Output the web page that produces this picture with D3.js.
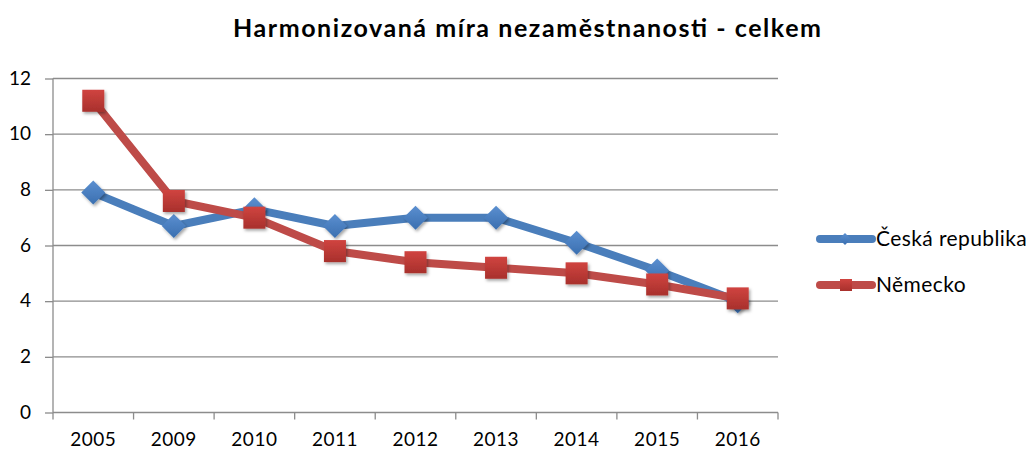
<!DOCTYPE html>
<html><head><meta charset="utf-8">
<script src="https://cdn.jsdelivr.net/npm/d3@7"></script>
<style>body{margin:0;background:#fff}svg{display:block}</style>
</head><body>
<svg id="c" width="1035" height="453"></svg>
<script>
const categories = ["2005","2009","2010","2011","2012","2013","2014","2015","2016"];
const czValues = [7.9, 6.7, 7.3, 6.7, 7.0, 7.0, 6.1, 5.1, 4.0];
const deValues = [11.2, 7.6, 7.0, 5.8, 5.4, 5.2, 5.0, 4.6, 4.1];
const yTicks = [0, 2, 4, 6, 8, 10, 12];
const seriesNames = ["Česká republika", "Německo"];
const title = "Harmonizovaná míra nezaměstnanosti - celkem";

(function(){
const svg = d3.select("#c");
const font = "Lato, 'DejaVu Sans', sans-serif";
const pLeft = 53, pRight = 778, pTop = 78.5, pBottom = 412.5;
const x = d3.scaleBand().domain(categories).range([pLeft, pRight]);
const y = d3.scaleLinear().domain([0, 12]).range([pBottom, pTop]);

const defs = svg.append("defs");
const f = defs.append("filter").attr("id","sh").attr("x","-50%").attr("y","-50%").attr("width","200%").attr("height","200%");
f.append("feDropShadow").attr("dx",1.5).attr("dy",2).attr("stdDeviation",1.5).attr("flood-color","#000").attr("flood-opacity",0.35);
const gb = defs.append("linearGradient").attr("id","gb").attr("x1",0).attr("y1",0).attr("x2",0).attr("y2",1);
gb.append("stop").attr("offset","0").attr("stop-color","#5b8fd0");
gb.append("stop").attr("offset","1").attr("stop-color","#3a6fb0");
const gr = defs.append("linearGradient").attr("id","gr").attr("x1",0).attr("y1",0).attr("x2",0).attr("y2",1);
gr.append("stop").attr("offset","0").attr("stop-color","#d04440");
gr.append("stop").attr("offset","1").attr("stop-color","#a8302c");

svg.append("text").attr("x", 527).attr("y", 37).attr("text-anchor","middle")
  .attr("font-family", font).attr("font-weight","bold").attr("font-size", 25).attr("fill","#000")
  .attr("textLength", 588).attr("lengthAdjust","spacing")
  .text(title);

svg.append("g").selectAll("line").data(yTicks.filter(d=>d>0)).join("line")
  .attr("x1", pLeft).attr("x2", pRight).attr("y1", d=>y(d)).attr("y2", d=>y(d))
  .attr("stroke","#8c8c8c").attr("stroke-width",1.3);

const ya = svg.append("g").attr("transform",`translate(${pLeft},0)`)
  .call(d3.axisLeft(y).tickValues(yTicks).tickSize(8).tickPadding(14).tickFormat(d3.format("d")));
ya.select(".domain").attr("stroke","#8c8c8c").attr("stroke-width",1.3).attr("d",`M0,${pTop}V${pBottom}`);
ya.selectAll(".tick line").attr("stroke","#8c8c8c").attr("stroke-width",1.3);
ya.selectAll("text").attr("font-family",font).attr("font-size",19).attr("fill","#000").attr("dy","0.3em");

const xa = svg.append("g").attr("transform",`translate(0,${pBottom})`)
  .call(d3.axisBottom(x).tickSize(0).tickPadding(20));
xa.select(".domain").attr("stroke","#8c8c8c").attr("stroke-width",1.3).attr("d",`M${pLeft},0H${pRight}`);
xa.selectAll("text").attr("font-family",font).attr("font-size",19).attr("fill","#000").attr("letter-spacing","0.5px");
const bounds = categories.map(c=>x(c)).concat([pRight]);
xa.selectAll(".bt").data(bounds).join("line").attr("class","bt")
  .attr("x1",d=>d).attr("x2",d=>d).attr("y1",0).attr("y2",7)
  .attr("stroke","#8c8c8c").attr("stroke-width",1.3);

const cx = c => x(c) + x.bandwidth()/2;
const line = d3.line().x(d=>cx(d[0])).y(d=>y(d[1]));

const series = [
  {name: seriesNames[0], values: czValues, color:"#4a7ebb", grad:"url(#gb)", marker:"diamond"},
  {name: seriesNames[1], values: deValues, color:"#be4b48", grad:"url(#gr)", marker:"square"}
];

series.forEach(s=>{
  const pts = categories.map((c,i)=>[c, s.values[i]]);
  svg.append("path").datum(pts).attr("d", line).attr("fill","none")
    .attr("stroke", s.color).attr("stroke-width", 8).attr("stroke-linejoin","round").attr("stroke-linecap","round");
});
series.forEach(s=>{
  const pts = categories.map((c,i)=>[c, s.values[i]]);
  const g = svg.append("g").attr("filter","url(#sh)");
  if (s.marker === "diamond") {
    g.selectAll("path").data(pts).join("path")
      .attr("d", d=>{const X=cx(d[0]),Y=y(d[1]),r=12;return `M${X},${Y-r}L${X+r},${Y}L${X},${Y+r}L${X-r},${Y}Z`;})
      .attr("fill", s.grad);
  } else {
    g.selectAll("rect").data(pts).join("rect")
      .attr("x", d=>cx(d[0])-11).attr("y", d=>y(d[1])-11).attr("width",22).attr("height",22)
      .attr("fill", s.grad);
  }
});

const lg = svg.append("g");
series.forEach((s,i)=>{
  const ly = 239 + i*46;
  lg.append("line").attr("x1",820).attr("x2",872).attr("y1",ly).attr("y2",ly)
    .attr("stroke", s.color).attr("stroke-width",8).attr("stroke-linecap","round");
  if (s.marker==="diamond") {
    lg.append("path").attr("d",`M845,${ly-6}L851,${ly}L845,${ly+6}L839,${ly}Z`).attr("fill", s.grad);
  } else {
    lg.append("rect").attr("x",840).attr("y",ly-6).attr("width",12).attr("height",12).attr("fill", s.grad);
  }
  lg.append("text").attr("x",876).attr("y",ly+7).attr("font-family",font).attr("font-size",21)
    .attr("fill","#000").attr("letter-spacing","0.4px").text(s.name);
});
})();
</script>
</body></html>
